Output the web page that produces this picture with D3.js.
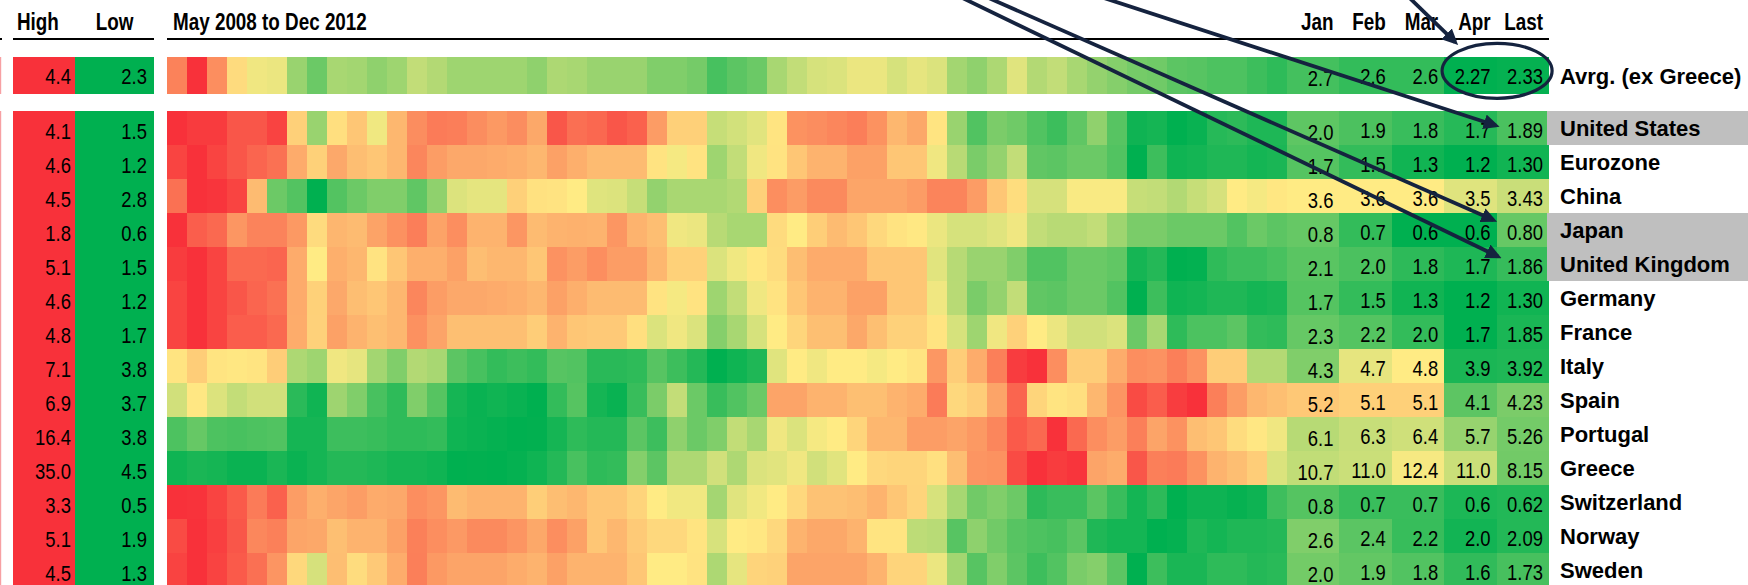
<!DOCTYPE html>
<html>
<head>
<meta charset="utf-8">
<script src="https://cdn.jsdelivr.net/npm/d3@7"></script>
<style>
  html, body { margin: 0; padding: 0; background: #fff; overflow: hidden; }
  svg { display: block; }
</style>
</head>
<body>
<svg id="chart" width="1748" height="585"></svg>
<script>
// ---- data: 10-year government bond yields (%) ----
const countries = ["Avrg. (ex Greece)", "United States", "Eurozone", "China", "Japan", "United Kingdom",
  "Germany", "France", "Italy", "Spain", "Portugal", "Greece", "Switzerland", "Norway", "Sweden"];
const highs = [4.4, 4.1, 4.6, 4.5, 1.8, 5.1, 4.6, 4.8, 7.1, 6.9, 16.4, 35.0, 3.3, 5.1, 4.5];
const lows  = [2.3, 1.5, 1.2, 2.8, 0.6, 1.5, 1.2, 1.7, 3.8, 3.7, 3.8, 4.5, 0.5, 1.9, 1.3];
// midpoint (yellow) of each row's three-colour scale
const midpoints = [3.8, 2.85, 2.7, 3.6, 1.1, 3.2, 2.7, 3.2, 4.8, 4.8, 7.0, 12.7, 1.4, 3.3, 2.85];
const highlighted = ["United States", "Japan", "United Kingdom"];

const recentLabels = ["Jan", "Feb", "Mar", "Apr", "Last"];
const recent = [
  [2.7, 2.6, 2.6, 2.27, 2.33],
  [2.0, 1.9, 1.8, 1.7, 1.89],
  [1.7, 1.5, 1.3, 1.2, 1.30],
  [3.6, 3.6, 3.6, 3.5, 3.43],
  [0.8, 0.7, 0.6, 0.6, 0.80],
  [2.1, 2.0, 1.8, 1.7, 1.86],
  [1.7, 1.5, 1.3, 1.2, 1.30],
  [2.3, 2.2, 2.0, 1.7, 1.85],
  [4.3, 4.7, 4.8, 3.9, 3.92],
  [5.2, 5.1, 5.1, 4.1, 4.23],
  [6.1, 6.3, 6.4, 5.7, 5.26],
  [10.7, 11.0, 12.4, 11.0, 8.15],
  [0.8, 0.7, 0.7, 0.6, 0.62],
  [2.6, 2.4, 2.2, 2.0, 2.09],
  [2.0, 1.9, 1.8, 1.6, 1.73]
];

// monthly history, May 2008 .. Dec 2012
const months = d3.timeMonth.range(new Date(2008, 4, 1), new Date(2013, 0, 1));
const avgSeries = [4.14,4.40,4.10,3.85,3.71,3.68,3.20,2.93,3.29,3.26, 3.14,3.23,3.44,3.35,3.23,3.23,3.23,3.23,3.14,3.32,
  3.29,3.20,3.20,3.20,3.05,3.05,2.99,2.72,2.84,2.93, 3.29,3.44,3.56,3.59,3.68,3.68,3.56,3.65,3.59,3.26,
  3.14,3.32,3.62,3.35,3.44,3.29,3.17,3.08,2.99,2.96, 2.84,2.81,2.75,2.75,2.66,2.57];
const usSeries = [4.10,4.03,4.03,3.85,3.85,3.98,3.03,2.31,2.93,3.10, 2.77,3.20,3.48,3.60,3.58,3.48,3.40,3.48,3.30,3.85,
  3.68,3.73,3.85,3.78,3.38,3.03,3.03,2.55,2.61,2.69, 2.90,3.45,3.48,3.53,3.58,3.45,3.20,3.30,2.90,2.31,
  1.93,2.15,2.09,1.93,1.82,2.01,2.26,1.96,1.58,1.61, 1.50,1.55,1.70,1.74,1.66,1.66];
const eurozoneSeries = [4.41,4.60,4.41,4.22,4.07,3.95,3.35,2.97,3.38,3.16, 3.08,3.23,3.73,3.50,3.38,3.38,3.35,3.31,3.23,3.46,
  3.31,3.19,3.19,3.19,2.78,2.64,2.78,2.13,2.34,2.61, 2.78,3.08,3.27,3.27,3.46,3.46,3.08,3.08,2.61,2.28,
  1.92,2.07,2.34,1.77,1.74,1.83,1.83,1.68,1.20,1.56, 1.29,1.32,1.38,1.38,1.32,1.35];
const chinaSeries = [4.19,4.50,4.48,4.41,3.83,3.14,3.06,2.80,3.06,3.14, 3.20,3.20,3.10,3.25,3.49,3.52,3.52,3.73,3.65,3.64,
  3.60,3.50,3.49,3.42,3.26,3.33,3.33,3.33,3.36,3.73, 4.05,3.98,4.07,4.07,3.94,3.94,3.94,3.98,4.10,4.10,
  3.98,3.78,3.67,3.47,3.47,3.58,3.58,3.58,3.42,3.41, 3.36,3.42,3.47,3.60,3.57,3.62];
const japanSeries = [1.80,1.63,1.59,1.42,1.49,1.49,1.41,1.16,1.30,1.28, 1.37,1.44,1.51,1.37,1.45,1.31,1.31,1.42,1.28,1.31,
  1.32,1.31,1.42,1.31,1.27,1.07,1.06,0.96,0.93,0.93, 1.16,1.10,1.21,1.28,1.24,1.17,1.13,1.11,1.06,1.02,
  1.02,1.04,1.07,0.98,0.96,0.96,0.98,0.91,0.84,0.84, 0.81,0.81,0.81,0.76,0.81,0.78];
const ukSeries = [4.99,5.10,4.91,4.53,4.53,4.57,3.85,3.20,3.81,3.73, 3.28,3.58,3.81,3.81,3.96,3.66,3.73,3.73,3.58,4.11,
  4.00,4.15,4.00,4.00,3.73,3.47,3.47,2.96,3.10,3.24, 3.35,3.66,3.85,3.85,3.85,3.58,3.58,3.58,3.00,2.72,
  2.52,2.52,2.35,2.04,2.04,2.21,2.21,2.15,1.64,1.74, 1.50,1.52,1.81,1.91,1.91,1.98];
const germanySeries = [4.41,4.60,4.41,4.22,4.07,3.95,3.35,2.97,3.38,3.16, 3.08,3.23,3.73,3.50,3.38,3.38,3.35,3.31,3.23,3.46,
  3.31,3.19,3.19,3.19,2.78,2.64,2.78,2.13,2.34,2.61, 2.78,3.08,3.27,3.27,3.46,3.46,3.08,3.08,2.61,2.28,
  1.92,2.07,2.34,1.77,1.74,1.83,1.83,1.68,1.20,1.56, 1.29,1.32,1.38,1.38,1.32,1.35];
const franceSeries = [4.64,4.80,4.64,4.42,4.42,4.32,3.74,3.42,3.84,3.68, 3.58,3.65,3.97,3.81,3.58,3.58,3.58,3.58,3.46,3.68,
  3.52,3.49,3.49,3.30,2.99,3.11,2.99,2.48,2.69,2.96, 3.20,3.39,3.58,3.58,3.78,3.58,3.42,3.42,3.26,2.96,
  2.63,3.11,3.42,3.20,3.08,2.93,2.93,2.99,2.33,2.69, 1.97,2.15,2.15,2.24,2.00,1.97];
const italySeries = [4.89,5.17,4.89,4.85,4.89,5.17,4.48,4.42,4.74,4.70, 4.44,4.30,4.50,4.46,4.16,4.08,4.00,4.04,4.00,4.14,
  4.12,3.96,3.96,3.98,4.14,4.04,3.94,3.80,3.86,3.92, 4.68,4.80,4.74,4.80,4.80,4.76,4.80,4.89,5.84,5.17,
  5.58,6.13,6.96,7.10,5.95,5.17,5.17,5.58,5.95,5.90, 6.13,5.90,5.17,5.17,4.50,4.50];
const spainSeries = [4.60,4.84,4.65,4.54,4.60,4.60,3.88,3.77,4.38,4.25, 4.01,3.90,4.25,4.07,3.79,3.74,3.77,3.74,3.70,3.92,
  4.07,3.79,3.74,3.94,4.23,4.54,4.16,3.94,4.05,4.16, 5.60,5.60,5.43,5.43,5.30,5.30,5.43,5.51,6.06,5.01,
  5.14,5.60,6.31,5.05,4.88,4.93,5.39,5.77,6.61,6.40, 6.77,6.90,6.02,5.68,5.39,5.30];
const portugalSeries = [4.76,5.08,4.76,4.70,4.76,4.82,4.06,4.06,4.57,4.57, 4.50,4.38,4.38,4.44,3.99,3.93,3.86,3.80,3.82,4.06,
  4.38,4.25,4.25,4.95,4.57,5.59,5.14,5.40,6.23,5.91, 6.81,6.55,6.87,7.00,8.13,9.63,9.63,10.95,10.95,10.57,
  11.14,12.08,14.33,13.58,16.40,13.58,11.70,10.95,12.45,10.57, 11.51,9.26,8.88,7.75,7.19,6.81];
const greeceSeries = [4.99,5.32,5.16,4.83,4.83,5.32,4.83,5.16,5.65,5.65, 5.48,5.16,5.16,4.99,4.50,4.55,4.50,4.66,4.99,5.65,
  6.80,5.98,6.14,8.76,7.45,10.08,10.08,11.22,10.08,11.55, 11.72,12.21,11.22,11.72,12.70,14.93,15.38,15.38,14.04,18.05,
  22.96,23.40,31.88,35.00,33.66,34.50,21.17,20.28,30.54,25.63, 26.08,23.40,19.39,18.05,16.27,11.55];
const switzerlandSeries = [3.30,3.28,3.11,2.88,2.54,2.81,2.20,2.01,2.12,2.20, 2.05,2.08,2.35,2.27,1.89,1.97,1.97,1.97,1.70,1.86,
  1.93,1.78,1.78,1.63,1.40,1.35,1.35,1.08,1.29,1.35, 1.40,1.59,1.82,1.82,1.86,1.97,1.78,1.63,1.26,1.09,
  0.90,0.95,0.88,0.66,0.70,0.70,0.82,0.70,0.57,0.66, 0.50,0.55,0.55,0.52,0.55,0.72];
const norwaySeries = [4.85,5.10,4.96,4.74,4.27,4.34,3.98,3.95,3.73,3.84, 3.84,4.02,4.34,4.20,4.09,4.24,4.24,4.13,3.95,4.20,
  4.02,3.66,3.80,3.62,3.48,3.48,3.37,3.08,3.30,3.34, 3.48,3.84,3.95,3.95,3.84,3.37,3.37,2.94,2.91,2.38,
  2.68,2.52,2.38,2.32,2.29,2.40,2.07,2.01,2.01,1.90, 1.93,2.07,2.01,2.07,2.07,2.10];
const swedenSeries = [4.34,4.50,4.34,4.14,3.94,3.61,3.02,2.60,3.25,2.98, 3.15,3.41,3.81,3.58,3.48,3.48,3.48,3.41,3.35,3.51,
  3.35,3.35,3.35,3.18,2.85,2.85,2.92,2.35,2.70,3.05, 3.08,3.48,3.48,3.48,3.48,3.35,3.05,3.05,2.73,2.29,
  1.83,2.08,1.86,1.67,1.80,2.04,2.11,1.86,1.30,1.67, 1.46,1.46,1.58,1.58,1.52,1.55];

const series = [avgSeries, usSeries, eurozoneSeries, chinaSeries, japanSeries, ukSeries, germanySeries,
  franceSeries, italySeries, spainSeries, portugalSeries, greeceSeries, switzerlandSeries, norwaySeries, swedenSeries];

// ---- styling ----
const GREEN = "#00B050", YELLOW = "#FFEB84", RED = "#F8313A", NAVY = "#15233F", GREY = "#BFBFBF";
const SANS = "'Liberation Sans', Arial, Helvetica, sans-serif";
const NARROW = "'Liberation Sans Narrow', 'Arial Narrow'";

const svg = d3.select("#chart");

// condensed face if installed, otherwise a horizontally squeezed regular face
function probe(family) {
  const t = svg.append("text").attr("font-family", family).attr("font-weight", "bold")
    .attr("font-size", 100).text("May 2008 to Dec 2012");
  const w = t.node().getComputedTextLength();
  t.remove();
  return w;
}
const hasNarrow = Math.abs(probe(NARROW + ", " + SANS) - probe(SANS)) > 20;
const narrowFamily = hasNarrow ? NARROW + ", " + SANS : SANS;
const squeeze = hasNarrow ? "" : " scale(0.82,1)";
const at = (x, y) => `translate(${x},${y})${squeeze}`;

// ---- layout ----
const highX = [13, 75], lowX = [75, 154];
const heatX0 = 167, cellW = 20;
const xMonth = d3.scaleBand().domain(d3.range(months.length))
  .range([heatX0, heatX0 + months.length * cellW]);
const xRecent = d3.scaleBand().domain(recentLabels).range([heatX0 + months.length * cellW, 1549]);
const labelX = 1560, greyX = 1547;
const avgBand = [57, 94];
const yRow = d3.scaleBand().domain(countries.slice(1)).range([111, 111 + 34 * (countries.length - 1)]);

const rowBand = i => i === 0 ? avgBand : [yRow(countries[i]), yRow(countries[i]) + yRow.bandwidth()];
const rowMid = i => (rowBand(i)[0] + rowBand(i)[1]) / 2;

const colour = countries.map((c, i) =>
  d3.scaleLinear().domain([lows[i], midpoints[i], highs[i]]).range([GREEN, YELLOW, RED]).clamp(true));

const fmt1 = d3.format(".1f"), fmt2 = d3.format(".2f");
const recentText = (v, j) => (j === 4 || Math.abs(v * 10 - Math.round(v * 10)) > 1e-6) ? fmt2(v) : fmt1(v);

const rows = countries.map((name, i) => ({ name, i, high: highs[i], low: lows[i], values: series[i], recent: recent[i] }));

// ---- left border sliver ----
svg.append("rect").attr("x", 0).attr("y", avgBand[0]).attr("width", 1.2).attr("height", avgBand[1] - avgBand[0]).attr("fill", "#F7A0A3");
svg.append("rect").attr("x", 0).attr("y", yRow.range()[0]).attr("width", 1.2).attr("height", 585 - yRow.range()[0]).attr("fill", "#F7A0A3");

// ---- headers ----
const header = svg.append("g").attr("font-family", narrowFamily).attr("font-weight", "bold")
  .attr("font-size", 23).attr("fill", "#000");
header.append("text").attr("transform", at(17, 30)).text("High");
header.append("text").attr("transform", at((lowX[0] + lowX[1]) / 2, 30)).attr("text-anchor", "middle").text("Low");
header.append("text").attr("transform", at(heatX0 + 6, 30)).text("May 2008 to Dec 2012");
header.selectAll("text.rc").data(recentLabels).join("text").attr("class", "rc")
  .attr("transform", d => at(xRecent(d) + xRecent.bandwidth() - 6, 29.5))
  .attr("text-anchor", "end").text(d => d);

const rules = svg.append("g").attr("stroke", "#000").attr("stroke-width", 2.2);
rules.append("line").attr("x1", 0).attr("x2", 2).attr("y1", 39).attr("y2", 39);
rules.append("line").attr("x1", highX[0]).attr("x2", lowX[1]).attr("y1", 39).attr("y2", 39);
rules.append("line").attr("x1", heatX0).attr("x2", xRecent.range()[1]).attr("y1", 39).attr("y2", 39);

// ---- high / low columns ----
const hl = svg.append("g").attr("shape-rendering", "crispEdges");
hl.selectAll("rect.hi").data(rows).join("rect").attr("class", "hi")
  .attr("x", highX[0]).attr("width", highX[1] - highX[0])
  .attr("y", d => rowBand(d.i)[0]).attr("height", d => rowBand(d.i)[1] - rowBand(d.i)[0])
  .attr("fill", RED);
hl.selectAll("rect.lo").data(rows).join("rect").attr("class", "lo")
  .attr("x", lowX[0]).attr("width", lowX[1] - lowX[0])
  .attr("y", d => rowBand(d.i)[0]).attr("height", d => rowBand(d.i)[1] - rowBand(d.i)[0])
  .attr("fill", GREEN);

const hlText = svg.append("g").attr("font-family", narrowFamily).attr("font-size", 22.5).attr("fill", "#000")
  .attr("text-anchor", "end");
const hlBase = d => d.i === 0 ? rowMid(0) + 8.5 : rowMid(d.i) + 11;
hlText.selectAll("text.hi").data(rows).join("text").attr("class", "hi")
  .attr("transform", d => at(highX[1] - 4, hlBase(d))).text(d => fmt1(d.high));
hlText.selectAll("text.lo").data(rows).join("text").attr("class", "lo")
  .attr("transform", d => at(lowX[1] - 7, hlBase(d))).text(d => fmt1(d.low));

// ---- monthly heat cells ----
const heat = svg.append("g").attr("shape-rendering", "crispEdges");
heat.selectAll("g.row").data(rows).join("g").attr("class", "row")
  .each(function (d) {
    d3.select(this).selectAll("rect").data(d.values).join("rect")
      .attr("x", (v, k) => xMonth(k)).attr("width", xMonth.bandwidth() + 0.3)
      .attr("y", rowBand(d.i)[0]).attr("height", rowBand(d.i)[1] - rowBand(d.i)[0])
      .attr("fill", v => colour[d.i](v));
  });

// ---- recent months ----
const rec = svg.append("g");
rec.selectAll("g.row").data(rows).join("g").attr("class", "row")
  .each(function (d) {
    const g = d3.select(this);
    g.selectAll("rect").data(d.recent).join("rect")
      .attr("shape-rendering", "crispEdges")
      .attr("x", (v, j) => xRecent(recentLabels[j])).attr("width", xRecent.bandwidth() + 0.3)
      .attr("y", rowBand(d.i)[0]).attr("height", rowBand(d.i)[1] - rowBand(d.i)[0])
      .attr("fill", v => colour[d.i](v));
    g.selectAll("text").data(d.recent).join("text")
      .attr("font-family", narrowFamily).attr("font-size", 22.5).attr("text-anchor", "end").attr("fill", "#000")
      .attr("transform", (v, j) => at(xRecent(recentLabels[j]) + xRecent.bandwidth() - 6,
        rowMid(d.i) + (d.i === 0 ? 8 : 9.5) + (j === 0 ? 2.5 : 0)))
      .text((v, j) => recentText(v, j));
  });

// ---- row labels ----
svg.append("g").attr("shape-rendering", "crispEdges")
  .selectAll("rect").data(rows.filter(d => highlighted.includes(d.name))).join("rect")
  .attr("x", greyX).attr("width", 1748 - greyX)
  .attr("y", d => rowBand(d.i)[0]).attr("height", d => rowBand(d.i)[1] - rowBand(d.i)[0])
  .attr("fill", GREY);
svg.append("g").attr("font-family", SANS).attr("font-weight", "bold").attr("font-size", 22).attr("fill", "#000")
  .selectAll("text").data(rows).join("text")
  .attr("x", labelX).attr("y", d => rowMid(d.i) + 8).text(d => d.name);

// ---- call-outs ----
const defs = svg.append("defs");
defs.append("marker").attr("id", "head").attr("viewBox", "0 -7.5 16 15")
  .attr("refX", 12).attr("refY", 0).attr("markerWidth", 16).attr("markerHeight", 15)
  .attr("markerUnits", "userSpaceOnUse").attr("orient", "auto")
  .append("path").attr("d", "M0,-7.5L16,0L0,7.5Z").attr("fill", NAVY);

const lastX = xRecent("Last");
const callouts = [
  { from: [946, -10],    to: [lastX + 5, rowMid(countries.indexOf("United Kingdom")) - 5.7] },
  { from: [970.6, -10],  to: [lastX + 0.5, rowMid(countries.indexOf("Japan")) - 8.3] },
  { from: [1079.4, -10], to: [lastX + 3, rowMid(countries.indexOf("United States")) - 1.3] },
  { from: [1401.4, -10], to: [lastX - 38.5, 45] }
];
const ann = svg.append("g").attr("stroke", NAVY).attr("fill", "none");
callouts.forEach(c => {
  const dx = c.to[0] - c.from[0], dy = c.to[1] - c.from[1], len = Math.hypot(dx, dy);
  ann.append("line")
    .attr("x1", c.from[0]).attr("y1", c.from[1])
    .attr("x2", c.to[0] - 4 * dx / len).attr("y2", c.to[1] - 4 * dy / len)
    .attr("stroke-width", 3.8).attr("marker-end", "url(#head)");
});
ann.append("ellipse").attr("cx", lastX + 0.5).attr("cy", rowMid(0) - 4.7)
  .attr("rx", 55).attr("ry", 27.5).attr("stroke-width", 3.2);
</script>
</body>
</html>
